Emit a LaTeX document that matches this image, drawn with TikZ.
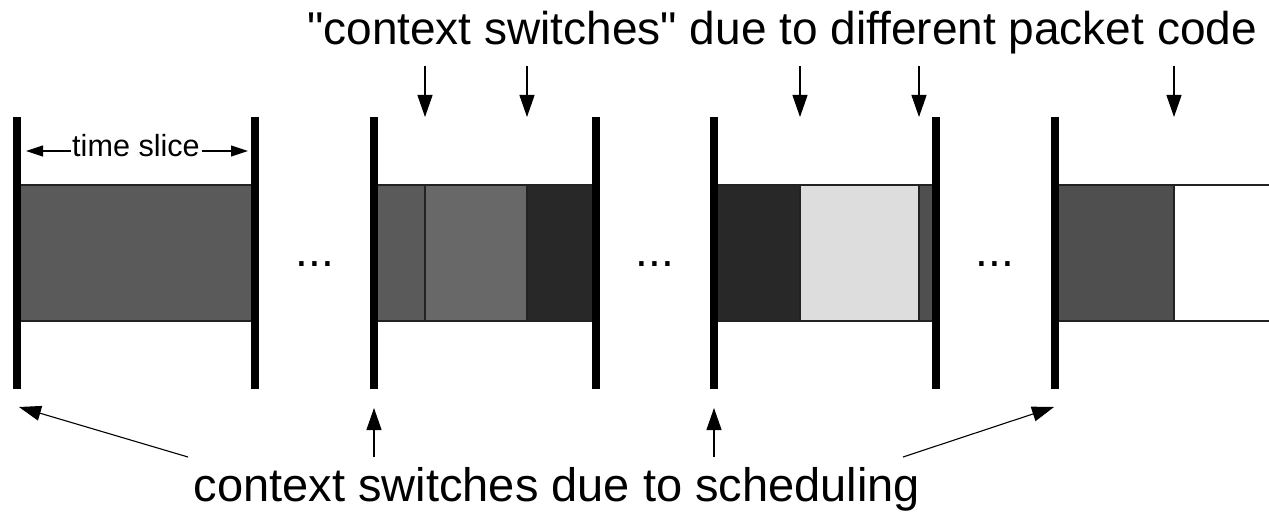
\documentclass[tikz,border=0pt]{standalone}
\usepackage{fontspec}
\setmainfont{Liberation Sans}[Ligatures=TeXOff]
\usetikzlibrary{arrows.meta}
\definecolor{midgray}{HTML}{5A5A5A}
\definecolor{lightmid}{HTML}{686868}
\definecolor{nearblack}{HTML}{282828}
\definecolor{pale}{HTML}{DDDDDD}
\definecolor{darkmid}{HTML}{4F4F4F}
\definecolor{edge}{HTML}{222222}
\begin{document}
\begin{tikzpicture}[x=0.5pt,y=-0.5pt,
  bar/.style={line width=4pt},
  seg/.style={draw=edge, line width=0.6pt},
  pointer/.style={line width=0.55pt, -{Triangle[length=11pt,width=7.5pt]}},
  span/.style={line width=0.55pt, -{Triangle[length=8.5pt,width=5.5pt]}},
  big/.style={font=\fontsize{23}{27}\selectfont, inner sep=0pt},
  small/.style={font=\fontsize{15.3}{18}\selectfont, inner sep=0pt}]
\useasboundingbox (0,0) rectangle (1269,513);

% time slice 1
\filldraw[seg, fill=midgray] (17,185) rectangle (255,321);
% time slice 2: three packets
\filldraw[seg, fill=midgray]   (374,185) rectangle (425,321);
\filldraw[seg, fill=lightmid]  (425,185) rectangle (527,321);
\filldraw[seg, fill=nearblack] (527,185) rectangle (596,321);
% time slice 3
\filldraw[seg, fill=nearblack] (714,185) rectangle (800,321);
\filldraw[seg, fill=pale]      (800,185) rectangle (919,321);
\filldraw[seg, fill=darkmid]   (919,185) rectangle (936,321);
% time slice 4, running off the right edge
\filldraw[seg, fill=darkmid]   (1055,185) rectangle (1174,321);
\draw[seg] (1174,185) -- (1275,185) (1174,321) -- (1275,321);

% slice boundaries
\foreach \n/\x in {1/17,2/255,3/374,4/596,5/714,6/936,7/1055}{
  \coordinate (b\n t) at (\x,117);
  \coordinate (b\n b) at (\x,389);
  \draw[bar] (b\n t) -- (b\n b);
}

% elided slices
\node[big, anchor=base] (dots1) at (315,267) {...};
\node[big, anchor=base] (dots2) at (655,267) {...};
\node[big, anchor=base] (dots3) at (995,267) {...};

% time slice width label
\node[small, anchor=base] (ts) at (136,157) {time slice};
\coordinate (tsL) at (71,151);
\coordinate (tsLtip) at (26,151);
\coordinate (tsR) at (202,151);
\coordinate (tsRtip) at (248,151);
\draw[span] (tsL) -- (tsLtip);
\draw[span] (tsR) -- (tsRtip);

% packet code switches
\node[big, anchor=base] (pkt) at (782,45) {"context switches" due to different packet code};
\foreach \n/\x in {1/425,2/527,3/800,4/919,5/1174}{
  \coordinate (p\n s) at (\x,66);
  \coordinate (p\n e) at (\x,117);
  \draw[pointer] (p\n s) -- (p\n e);
}

% scheduling switches
\node[big, anchor=base, font=\fontsize{23.5}{28}\selectfont] (sched) at (557,501) {context switches due to scheduling};
\coordinate (s1) at (188,457);
\coordinate (s2) at (374,457);
\coordinate (s3) at (714,457);
\coordinate (s4) at (903,457);
\coordinate (t1) at (19,407);
\coordinate (t2) at (374,408);
\coordinate (t3) at (714,408);
\coordinate (t4) at (1054,407);
\draw[pointer] (s1) -- (t1);
\draw[pointer] (s2) -- (t2);
\draw[pointer] (s3) -- (t3);
\draw[pointer] (s4) -- (t4);
\end{tikzpicture}
\end{document}
